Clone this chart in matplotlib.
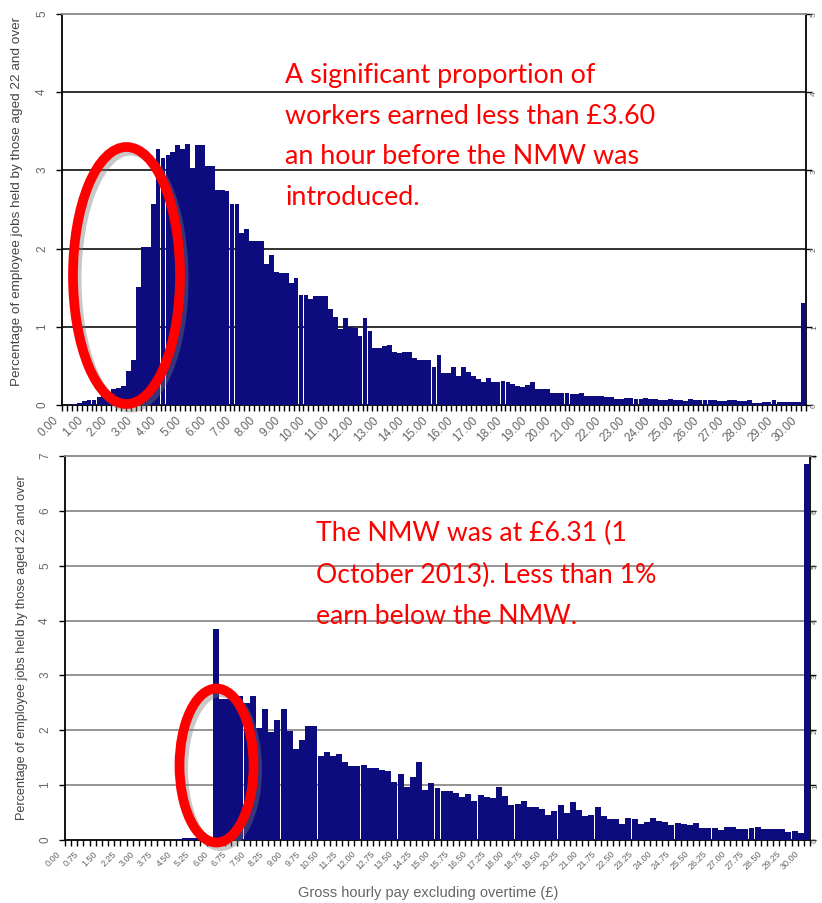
import numpy as np
import matplotlib.pyplot as plt
import matplotlib.transforms as mtransforms
from matplotlib.patches import Ellipse

# share of jobs (%) per 20p band, 1998 (before NMW); last band is 30.00 and over
top_pct = [0.0, 0.0, 0.01, 0.02, 0.05, 0.06, 0.06, 0.1, 0.11, 0.15,
           0.2, 0.22, 0.24, 0.43, 0.58, 1.51, 2.02, 2.02, 2.57, 3.28,
           3.16, 3.2, 3.23, 3.32, 3.27, 3.34, 3.03, 3.32, 3.32, 3.05,
           3.05, 2.75, 2.75, 2.74, 2.57, 2.57, 2.2, 2.25, 2.1, 2.1,
           2.1, 1.8, 1.92, 1.7, 1.69, 1.69, 1.56, 1.63, 1.41, 1.41,
           1.36, 1.39, 1.39, 1.39, 1.23, 1.12, 0.97, 1.11, 1.0, 0.99,
           0.88, 1.11, 0.95, 0.73, 0.73, 0.76, 0.77, 0.68, 0.67, 0.68,
           0.68, 0.6, 0.57, 0.57, 0.58, 0.48, 0.64, 0.41, 0.41, 0.48,
           0.37, 0.48, 0.42, 0.37, 0.33, 0.29, 0.35, 0.3, 0.3, 0.31,
           0.29, 0.27, 0.24, 0.23, 0.25, 0.29, 0.21, 0.2, 0.2, 0.15,
           0.15, 0.15, 0.15, 0.14, 0.14, 0.15, 0.12, 0.12, 0.12, 0.12,
           0.1, 0.1, 0.08, 0.08, 0.09, 0.09, 0.08, 0.08, 0.09, 0.08,
           0.08, 0.06, 0.06, 0.08, 0.06, 0.06, 0.05, 0.08, 0.07, 0.06,
           0.06, 0.06, 0.06, 0.055, 0.055, 0.06, 0.06, 0.05, 0.05, 0.06,
           0.03, 0.03, 0.04, 0.04, 0.06, 0.04, 0.04, 0.04, 0.04, 0.04,
           1.3]

# share of jobs (%) per 25p band, 2013; last band is 30.00 and over
bottom_pct = [0.0, 0.0, 0.0, 0.0, 0.0, 0.0, 0.0, 0.0, 0.0, 0.0,
              0.0, 0.0, 0.0, 0.0, 0.0, 0.0, 0.0, 0.0, 0.01, 0.03,
              0.03, 0.03, 0.02, 0.02, 3.85, 2.57, 2.57, 2.55, 2.62, 2.5,
              2.62, 2.04, 2.38, 1.96, 2.18, 2.38, 1.98, 1.66, 1.83, 2.07,
              2.07, 1.54, 1.6, 1.54, 1.57, 1.42, 1.35, 1.35, 1.37, 1.31,
              1.31, 1.28, 1.25, 1.05, 1.2, 0.96, 1.14, 1.43, 0.92, 1.03,
              0.95, 0.9, 0.9, 0.85, 0.78, 0.84, 0.72, 0.82, 0.78, 0.76,
              0.96, 0.8, 0.63, 0.66, 0.72, 0.6, 0.6, 0.57, 0.46, 0.52,
              0.63, 0.49, 0.69, 0.55, 0.43, 0.46, 0.6, 0.43, 0.38, 0.38,
              0.3, 0.41, 0.38, 0.29, 0.32, 0.41, 0.35, 0.32, 0.27, 0.31,
              0.29, 0.27, 0.31, 0.22, 0.22, 0.22, 0.19, 0.23, 0.23, 0.2,
              0.2, 0.21, 0.23, 0.2, 0.2, 0.2, 0.2, 0.14, 0.17, 0.12,
              6.85]

top_labels = ["0.00", "1.00", "2.00", "3.00", "4.00", "5.00", "6.00", "7.00",
              "8.00", "9.00", "10.00", "11.00", "12.00", "13.00", "14.00",
              "15.00", "16.00", "17.00", "18.00", "19.00", "20.00", "21.00",
              "22.00", "23.00", "24.00", "25.00", "26.00", "27.00", "28.00",
              "29.00", "30.00"]
bottom_labels = ["0.00", "0.75", "1.50", "2.25", "3.00", "3.75", "4.50", "5.25",
                 "6.00", "6.75", "7.50", "8.25", "9.00", "9.75", "10.50",
                 "11.25", "12.00", "12.75", "13.50", "14.25", "15.00", "15.75",
                 "16.50", "17.25", "18.00", "18.75", "19.50", "20.25", "21.00",
                 "21.75", "22.50", "23.25", "24.00", "24.75", "25.50", "26.25",
                 "27.00", "27.75", "28.50", "29.25", "30.00"]

ylabel = "Percentage of employee jobs held by those aged 22 and over"
note_top = ["A significant proportion of", "workers earned less than £3.60",
            "an hour before the NMW was", "introduced."]
note_bottom = ["The NMW was at £6.31 (1", "October 2013). Less than 1%",
               "earn below the NMW."]

W, H = 822, 904
fig = plt.figure(figsize=(W / 100, H / 100), dpi=100)
plt.rcParams['font.family'] = ['Liberation Sans', 'DejaVu Sans']


def px(x0, y0, x1, y1):
    return [x0 / W, 1 - y1 / H, (x1 - x0) / W, (y1 - y0) / H]


def draw(ax, values, labels, step, ymax, grid_col, lab_size, rpad):
    x = np.arange(len(values))
    ax.bar(x, values, width=0.97, color='#0c0c7e', edgecolor='none', zorder=3)
    ax.set_xlim(-0.5, len(values) - 0.5)
    ax.set_ylim(0, ymax)
    for v in range(1, ymax):
        ax.axhline(v, color=grid_col, lw=1.3, zorder=1)
    ax.set_yticks(range(ymax + 1))
    ax.set_xticks(x[::step])
    ax.set_xticklabels(labels, rotation=45, ha='right', va='top',
                       rotation_mode='anchor', fontsize=lab_size, color='#666')
    ax.set_xticks(np.arange(-0.5, len(values)), minor=True)
    ax.tick_params(axis='x', which='major', length=0, pad=6)
    ax.tick_params(axis='x', which='minor', length=4, width=1, color='k')
    ax.tick_params(axis='y', labelrotation=90, labelsize=8.5, right=True,
                   labelcolor='#666', length=4, width=1, pad=6)
    for s in ['left', 'right', 'bottom']:
        ax.spines[s].set_color('k')
        ax.spines[s].set_linewidth(1.3)
    ax.spines['top'].set_color('#888')
    ax.spines['top'].set_linewidth(1.3)
    off = mtransforms.ScaledTranslation(-12 / 100, 0, fig.dpi_scale_trans)
    for t in ax.get_xticklabels():
        t.set_transform(t.get_transform() + off)
    # right-hand labels, squeezed against the edge of the picture
    rt = mtransforms.blended_transform_factory(
        ax.transAxes + mtransforms.ScaledTranslation(rpad / 100, 0, fig.dpi_scale_trans),
        ax.transData)
    for v in range(ymax + 1):
        ax.text(1.0, v, str(v), transform=rt, rotation=90, ha='left',
                va='center', fontsize=6, color='#666', clip_on=False)


ax1 = fig.add_axes(px(62, 15, 806, 406))
draw(ax1, top_pct, top_labels, 5, 5, '#222', 8.5, 5)
ax2 = fig.add_axes(px(65, 457, 810, 841))
draw(ax2, bottom_pct, bottom_labels, 3, 7, '#8c8c8c', 6.5, 2)

fig.text(17 / W, 1 - 201 / H, ylabel, rotation=90, ha='center', va='center',
         fontsize=9.7, color='#444')
fig.text(22 / W, 1 - 648 / H, ylabel, rotation=90, ha='center', va='center',
         fontsize=9.1, color='#444')
fig.text(428 / W, 1 - 893 / H, "Gross hourly pay excluding overtime (£)",
         ha='center', va='center', fontsize=10.5, color='#666')

for k, line in enumerate(note_top):
    fig.text(285 / W, 1 - (76 + 40.5 * k) / H, line, ha='left', va='center',
             fontsize=19.4, color='#ff0000', family=['Lato', 'DejaVu Sans'])
for k, line in enumerate(note_bottom):
    fig.text(316 / W, 1 - (533 + 42 * k) / H, line, ha='left', va='center',
             fontsize=19.2, color='#ff0000', family=['Lato', 'DejaVu Sans'])

# red rings drawn over the plots, with a soft grey shadow
for cx, cy, w, h in [(126.5, 276.5, 107, 257), (216.5, 766.5, 74, 154)]:
    fig.add_artist(Ellipse(((cx + 4) / W, 1 - (cy + 4) / H), w / W, h / H,
                           transform=fig.transFigure, fill=False,
                           ec='#777', lw=6.5, alpha=0.4, zorder=5))
    fig.add_artist(Ellipse((cx / W, 1 - cy / H), w / W, h / H,
                           transform=fig.transFigure, fill=False,
                           ec='#ff0000', lw=7, zorder=6))

fig.savefig('out.png', dpi=100)
